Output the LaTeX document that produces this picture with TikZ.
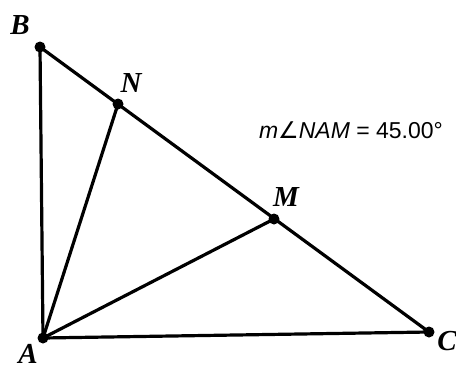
\documentclass[tikz,border=0pt]{standalone}
\usepackage{fontspec}
\setmainfont{Liberation Serif}
\newfontfamily\arialfont{Liberation Sans}
\newfontfamily\symfont{DejaVu Sans}
\begin{document}
\begin{tikzpicture}[x=1pt,y=-1pt,
  seg/.style={line width=3.2pt,line cap=round,black},
  dot/.style={circle,fill=black,inner sep=0pt,minimum size=11pt},
  lbl/.style={font=\fontsize{29}{31}\selectfont\bfseries\itshape,inner sep=0pt}]
\useasboundingbox (0,0) rectangle (456,365);
\coordinate (B) at (40,47);
\coordinate (A) at (43,338);
\coordinate (C) at (429,332);
\coordinate (N) at (118,104);
\coordinate (M) at (274,219);
\draw[seg] (B) -- (A) -- (C) -- (B);
\draw[seg] (A) -- (N);
\draw[seg] (A) -- (M);
\node[dot] (dB) at (B) {};
\node[dot] (dA) at (A) {};
\node[dot] (dC) at (C) {};
\node[dot] (dN) at (N) {};
\node[dot] (dM) at (M) {};
\node[lbl] (lB) at (20,25) {B};
\node[lbl] (lN) at (131,83) {N};
\node[lbl] (lM) at (286,197) {M};
\node[lbl] (lA) at (28,354) {A};
\node[lbl] (lC) at (447,341) {C};
\node[font=\arialfont\fontsize{23}{25}\selectfont,inner sep=0pt] (meas) at (351,130) {\textit{m}{\symfont\itshape ∠}\textit{NAM} = 45.00°};
\end{tikzpicture}
\end{document}
